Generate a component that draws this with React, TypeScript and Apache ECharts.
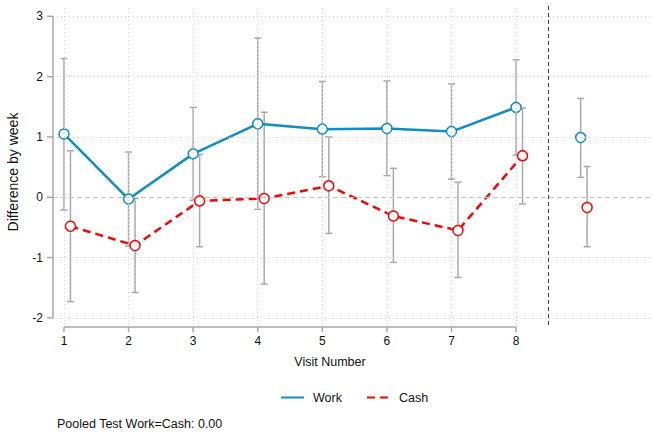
import React, { useEffect, useRef } from "react";
import * as echarts from "echarts";

// ---- data ----
const visits = [1, 2, 3, 4, 5, 6, 7, 8];
const xTickValues = [1, 2, 3, 4, 5, 6, 7, 8];
const yTickValues = [-2, -1, 0, 1, 2, 3];
const workMean = [1.05, -0.03, 0.72, 1.22, 1.13, 1.14, 1.09, 1.49];
const workLow = [-0.21, -0.81, -0.05, -0.2, 0.34, 0.36, 0.3, 0.7];
const workHigh = [2.3, 0.75, 1.49, 2.64, 1.92, 1.93, 1.88, 2.28];
const cashMean = [-0.48, -0.8, -0.06, -0.02, 0.19, -0.31, -0.55, 0.69];
const cashLow = [-1.73, -1.58, -0.82, -1.44, -0.6, -1.08, -1.33, -0.11];
const cashHigh = [0.77, -0.02, 0.71, 1.41, 1.0, 0.48, 0.25, 1.48];
const pooledX = 9;
const pooledWork = [0.99, 0.33, 1.64]; // mean, low, high
const pooledCash = [-0.17, -0.82, 0.51];
const cashOffset = 0.1;
const separatorX = 8.5;
const xMin = 0.83;
const xMax = 10.12;
const yMin = -2.118;
const yMax = 3.172;
const xTitle = "Visit Number";
const yTitle = "Difference by week";
const noteText = "Pooled Test Work=Cash: 0.00";

const BLUE = "#0f8dc4";
const RED = "#ff0000";
const BAR = "#a9a9a9";
const AXIS = "#a8a8a8";
const FONT = "'Liberation Sans', Arial, Helvetica, sans-serif";

export default function App() {
  const ref = useRef<HTMLDivElement>(null);
  useEffect(() => {
    if (!ref.current) return;
    const chart = echarts.init(ref.current, null, { renderer: "svg" });

    const workBars = visits.map((v, i) => [v, workLow[i], workHigh[i]]);
    const cashBars = visits.map((v, i) => [v + cashOffset, cashLow[i], cashHigh[i]]);
    workBars.push([pooledX, pooledWork[1], pooledWork[2]]);
    cashBars.push([pooledX + cashOffset, pooledCash[1], pooledCash[2]]);
    const errData = [...workBars, ...cashBars];

    const renderErr = (params: any, api: any) => {
      const x = api.value(0);
      const lo = api.value(1);
      const hi = api.value(2);
      const p1 = api.coord([x, hi]);
      const p2 = api.coord([x, lo]);
      const w = 3.5;
      const style = { stroke: BAR, lineWidth: 1.5, fill: "none" };
      return {
        type: "group",
        children: [
          { type: "line", shape: { x1: p1[0], y1: p1[1], x2: p2[0], y2: p2[1] }, style },
          { type: "line", shape: { x1: p1[0] - w, y1: p1[1], x2: p1[0] + w, y2: p1[1] }, style },
          { type: "line", shape: { x1: p2[0] - w, y1: p2[1], x2: p2[0] + w, y2: p2[1] }, style },
        ],
      };
    };

    const gridDotted = { color: "#d4d4d4", width: 1, type: [1, 3] as any };
    const marker = (c: string) => ({ color: "#ffffff", borderColor: c, borderWidth: 1.5, opacity: 1 });

    chart.setOption({
      animation: false,
      textStyle: { fontFamily: FONT },
      grid: { left: 53, right: 0, top: 6, bottom: 110, containLabel: false },
      xAxis: {
        type: "value",
        min: xMin,
        max: xMax,
        axisLine: { show: false },
        axisTick: { show: false },
        splitLine: { show: false },
        axisLabel: {
          customValues: xTickValues,
          formatter: (v: number) => String(v),
          color: "#111",
          fontSize: 12,
          margin: 10,
          fontFamily: FONT,
        },
      },
      yAxis: {
        type: "value",
        min: yMin,
        max: yMax,
        axisLine: { show: false },
        axisTick: { show: false },
        splitLine: { show: false },
        axisLabel: {
          customValues: yTickValues,
          formatter: (v: number) => String(v),
          color: "#111",
          fontSize: 12,
          margin: 10,
          fontFamily: FONT,
        },
      },
      legend: {
        data: ["Work", "Cash"],
        left: 280,
        top: 391,
        itemWidth: 23,
        itemHeight: 14,
        itemGap: 24,
        padding: 0,
        itemStyle: { opacity: 0, borderWidth: 0 },
        textStyle: { fontSize: 12.5, color: "#111", fontFamily: FONT, padding: [0, 0, 0, 4] },
      },
      series: [
        {
          type: "scatter",
          name: "grid",
          data: [],
          silent: true,
          z: 1,
          markLine: {
            silent: true,
            symbol: "none",
            label: { show: false },
            data: [
              ...yTickValues.filter((v) => v !== 0).map((v) => ({ yAxis: v, lineStyle: gridDotted })),
              { yAxis: 0, lineStyle: { color: "#c8c8c8", width: 1, type: [5, 3] } },
              ...xTickValues.map((v) => ({ xAxis: v, lineStyle: gridDotted })),
              { xAxis: separatorX, lineStyle: { color: "#444", width: 1, type: [4, 3] } },
            ],
          },
        },
        {
          type: "custom",
          name: "err",
          data: errData,
          encode: { x: 0, y: [1, 2] },
          renderItem: renderErr,
          silent: true,
          z: 2,
        },
        {
          type: "line",
          name: "Work",
          data: visits.map((v, i) => [v, workMean[i]]),
          color: BLUE,
          lineStyle: { color: BLUE, width: 2.5 },
          symbol: "circle",
          symbolSize: 10,
          itemStyle: marker(BLUE),
          emphasis: { disabled: true },
          z: 3,
        },
        {
          type: "line",
          name: "Cash",
          data: visits.map((v, i) => [v + cashOffset, cashMean[i]]),
          color: RED,
          lineStyle: { color: RED, width: 2.5, type: [8, 5] },
          symbol: "circle",
          symbolSize: 10,
          itemStyle: marker(RED),
          emphasis: { disabled: true },
          z: 3,
        },
        {
          type: "scatter",
          name: "pooled",
          data: [
            { value: [pooledX, pooledWork[0]], itemStyle: marker(BLUE) },
            { value: [pooledX + cashOffset, pooledCash[0]], itemStyle: marker(RED) },
          ],
          symbol: "circle",
          symbolSize: 10,
          emphasis: { disabled: true },
          z: 4,
        },
      ],
    });

    // axes frame from the library's scales
    const px = (x: number, y: number) => chart.convertToPixel({ gridIndex: 0 }, [x, y]) as number[];
    const lineStyle = { stroke: AXIS, lineWidth: 1.5 };
    const leftX = px(xMin, 0)[0];
    const bottomY = px(0, yMin)[1] + 2;
    const yTop = px(0, yTickValues[yTickValues.length - 1])[1];
    const yBot = px(0, yTickValues[0])[1];
    const xL = px(xTickValues[0], 0)[0];
    const xR = px(xTickValues[xTickValues.length - 1], 0)[0];
    const elements: any[] = [
      { type: "line", shape: { x1: leftX, y1: yTop, x2: leftX, y2: yBot }, style: lineStyle, z: 10 },
      { type: "line", shape: { x1: xL, y1: bottomY, x2: xR, y2: bottomY }, style: lineStyle, z: 10 },
    ];
    yTickValues.forEach((v) => {
      const y = px(0, v)[1];
      elements.push({ type: "line", shape: { x1: leftX - 6, y1: y, x2: leftX, y2: y }, style: lineStyle, z: 10 });
    });
    xTickValues.forEach((v) => {
      const x = px(v, 0)[0];
      elements.push({ type: "line", shape: { x1: x, y1: bottomY, x2: x, y2: bottomY + 5 }, style: lineStyle, z: 10 });
    });
    elements.push({
      type: "text",
      x: 330,
      y: 362,
      style: { text: xTitle, fontSize: 12.5, fill: "#111", font: `12.5px ${FONT}`, align: "center", verticalAlign: "middle" },
      z: 10,
    });
    elements.push({
      type: "text",
      x: 13,
      y: 172,
      rotation: Math.PI / 2,
      style: { text: yTitle, fontSize: 14, fill: "#111", font: `14px ${FONT}`, align: "center", verticalAlign: "middle" },
      z: 10,
    });
    elements.push({
      type: "text",
      x: 57,
      y: 424,
      style: { text: noteText, fontSize: 12.5, fill: "#111", font: `12.5px ${FONT}`, align: "left", verticalAlign: "middle" },
      z: 10,
    });
    chart.setOption({ graphic: { elements } });

    return () => chart.dispose();
  }, []);
  return <div ref={ref} style={{ width: 653, height: 435, position: "absolute", left: 0, top: 0 }} />;
}
